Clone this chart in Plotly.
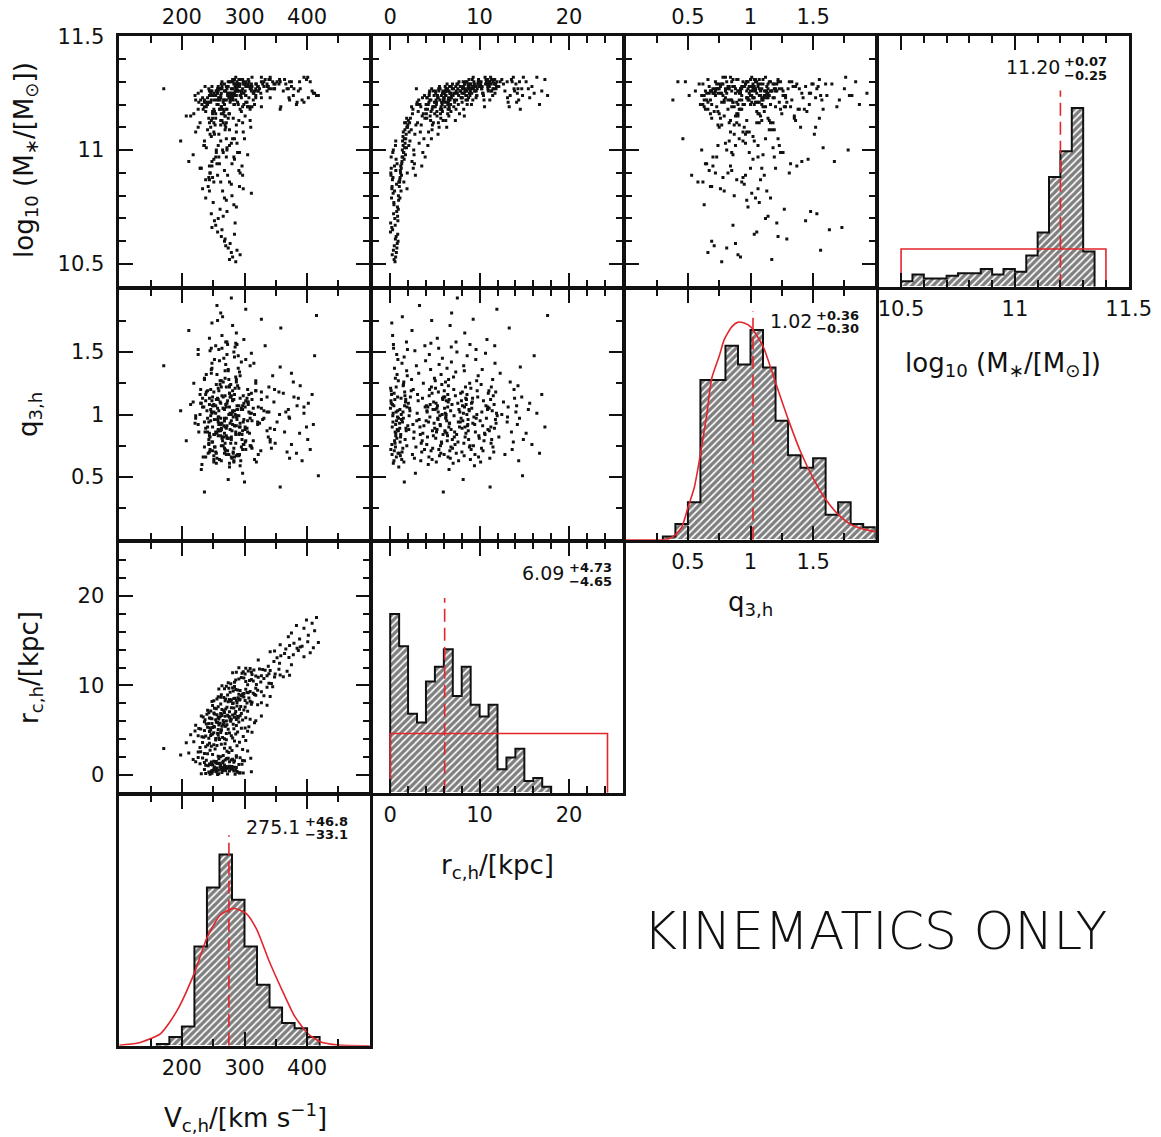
import plotly.graph_objects as go

FIG_W, FIG_H = 1161, 1137
FONT = "DejaVu Sans"
RED = "#e2262b"
INK = "#111111"
FRAME_W = 2.6

# ---------------------------------------------------------------------------
# Posterior samples: core radius r_c,h [kpc], circular velocity V_c,h [km/s],
# halo flattening q_3,h and stellar mass log10(M*/Msun); one entry per sample.
# ---------------------------------------------------------------------------
r_samp = [
    0.61, 0.83, 0.21, 0.48, 0.75, 0.03, 0.59, 0.36, 0.94, 0.67,
    0.25, 0.42, 0.79, 0.11, 0.54, 0.86, 0.33, 0.63, 0.18, 0.71,
    0.46, 0.91, 0.29, 0.56, 0.09, 0.69, 0.38, 0.84, 0.49, 0.15,
    0.77, 0.23, 0.96, 0.41, 0.62, 0.05, 0.88, 0.31, 0.73, 0.52,
    0.19, 0.66, 0.27, 0.92, 0.44, 0.07, 0.81, 0.58, 0.35, 0.12,
    1.05, 1.32, 1.67, 1.88, 1.14, 1.49, 1.76, 1.21, 1.58, 1.93,
    1.09, 1.41, 1.62, 1.27, 1.84, 1.18, 1.53, 1.71, 1.36, 1.97,
    1.02, 1.45, 1.79, 1.24, 1.56, 1.11, 1.65, 1.38, 1.91, 1.29,
    1.74, 1.16, 1.47, 1.82, 1.33, 1.61, 1.07, 1.52, 1.86, 1.43,
    2.08, 2.35, 2.71, 2.93, 2.17, 2.54, 2.82, 2.26, 2.63, 2.44,
    2.12, 2.88, 2.39, 2.67, 2.03, 2.76, 2.49, 2.21, 2.97, 2.58,
    3.06, 3.42, 3.77, 3.19, 3.58, 3.91, 3.28, 3.65, 3.13, 3.84,
    3.37, 3.71, 3.02, 3.53, 3.96, 3.24, 3.61, 3.47, 3.88, 3.33,
    4.05, 4.33, 4.68, 4.91, 4.17, 4.52, 4.79, 4.26, 4.61, 4.44,
    4.09, 4.86, 4.38, 4.72, 4.13, 4.57, 4.95, 4.29, 4.64, 4.47,
    4.02, 4.83, 4.36, 4.69, 4.21, 4.55, 4.98, 4.41, 4.75, 4.11,
    5.04, 5.31, 5.66, 5.89, 5.18, 5.47, 5.73, 5.22, 5.58, 5.94,
    5.09, 5.39, 5.81, 5.27, 5.63, 5.13, 5.51, 5.77, 5.35, 5.98,
    5.02, 5.44, 5.69, 5.24, 5.85, 5.16, 5.55, 5.42, 5.91, 5.29,
    5.61, 5.07, 5.75, 5.37, 5.84,
    6.03, 6.28, 6.61, 6.87, 6.15, 6.44, 6.72, 6.21, 6.53, 6.95,
    6.08, 6.36, 6.79, 6.25, 6.58, 6.12, 6.49, 6.83, 6.32, 6.67,
    6.05, 6.41, 6.76, 6.19, 6.56, 6.91, 6.38, 6.64, 6.10, 6.47,
    6.85, 6.23, 6.70, 6.34, 6.59, 6.97, 6.16, 6.51, 6.81, 6.43,
    7.04, 7.33, 7.62, 7.88, 7.17, 7.46, 7.75, 7.25, 7.56, 7.93,
    7.11, 7.39, 7.69, 7.21, 7.51, 7.84, 7.29, 7.65, 7.08, 7.43,
    7.79, 7.36, 7.58, 7.97, 7.14,
    8.02, 8.31, 8.64, 8.89, 8.16, 8.45, 8.73, 8.22, 8.57, 8.94,
    8.07, 8.38, 8.81, 8.27, 8.61, 8.12, 8.49, 8.77, 8.34, 8.68,
    8.04, 8.42, 8.86, 8.19, 8.53, 8.97, 8.29, 8.71, 8.09, 8.47,
    8.84, 8.24, 8.59, 8.36, 8.92,
    9.05, 9.36, 9.67, 9.91, 9.18, 9.48, 9.79, 9.24, 9.57, 9.96,
    9.12, 9.42, 9.73, 9.28, 9.62, 9.09, 9.53, 9.84, 9.31, 9.69,
    9.02, 9.45, 9.88, 9.21, 9.60,
    10.06, 10.38, 10.71, 10.93, 10.17, 10.49, 10.82, 10.25, 10.61, 10.97,
    10.11, 10.43, 10.76, 10.29, 10.55, 10.88, 10.21, 10.66, 10.34, 10.91,
    11.04, 11.35, 11.66, 11.89, 11.17, 11.46, 11.77, 11.23, 11.58, 11.93,
    11.09, 11.41, 11.72, 11.28, 11.53, 11.84, 11.14, 11.62, 11.31, 11.97,
    11.07, 11.49, 11.80, 11.26, 11.69,
    12.15, 12.48, 12.83, 12.30, 12.67,
    13.08, 13.42, 13.77, 13.19, 13.56, 13.91, 13.31, 13.64, 13.12, 13.85,
    14.06, 14.37, 14.71, 14.22, 14.55, 14.89, 14.14, 14.46, 14.80, 14.29,
    15.20, 15.60, 15.85, 16.10, 16.40, 16.70, 16.95, 17.30, 17.60, 15.45,
]

logm_samp = [
    10.53, 10.71, 10.84, 10.93, 10.57, 10.64, 11.02, 10.56, 10.78, 10.62,
    10.87, 10.76, 10.59, 10.97, 10.51, 10.69, 10.81, 10.91, 10.66, 10.85,
    10.58, 10.74, 10.99, 10.67, 10.89, 10.55, 10.72, 10.63, 10.82, 10.79,
    10.94, 10.54, 10.86, 10.77, 11.04, 10.68, 10.60, 10.88, 10.73, 10.70,
    10.83, 10.96, 10.65, 10.80, 10.52, 10.90, 10.75, 10.61, 11.00, 10.92,
    10.86, 10.95, 11.03, 10.83, 10.91, 10.99, 11.12, 10.82, 11.05, 11.10,
    10.79, 10.97, 11.01, 10.89, 11.14, 10.93, 10.86, 10.98, 11.00, 11.11,
    10.84, 11.02, 11.07, 10.92, 10.96, 10.88, 11.09, 11.04, 10.90, 10.94,
    11.05, 10.90, 11.08, 11.01, 10.97, 11.12, 10.87, 10.99, 11.10, 11.06,
    11.02, 11.09, 10.94, 11.27, 11.12, 11.18, 10.89, 11.14, 11.00, 10.95,
    11.08, 11.11, 11.19, 10.98, 11.13, 11.07, 11.16, 11.04, 11.20, 10.92,
    11.12, 11.19, 11.05, 11.22, 11.15, 10.97, 11.20, 10.99, 11.17, 11.24,
    11.08, 11.16, 11.21, 10.93, 11.18, 11.03, 11.23, 11.11, 11.14, 11.20,
    11.16, 11.21, 11.09, 11.24, 11.18, 11.13, 11.26, 11.20, 11.05, 11.22,
    11.14, 11.19, 11.25, 11.11, 11.23, 11.17, 11.21, 11.08, 11.27, 11.15,
    11.20, 11.12, 11.24, 11.18, 11.02, 11.22, 11.16, 11.26, 11.19, 11.23,
    11.19, 11.23, 11.14, 11.26, 11.21, 11.10, 11.24, 11.17, 11.27, 11.22,
    11.25, 11.12, 11.20, 11.24, 11.16, 11.22, 11.28, 11.18, 11.07, 11.23,
    11.21, 11.26, 11.19, 11.15, 11.25, 11.20, 11.22, 11.27, 11.13, 11.24,
    11.18, 11.26, 11.21, 11.23, 11.17,
    11.22, 11.26, 11.18, 11.24, 11.28, 11.20, 11.25, 11.13, 11.23, 11.27,
    11.21, 11.29, 11.17, 11.24, 11.26, 11.19, 11.22, 11.28, 11.10, 11.25,
    11.23, 11.27, 11.20, 11.26, 11.15, 11.24, 11.21, 11.28, 11.25, 11.18,
    11.23, 11.27, 11.22, 11.26, 11.19, 11.29, 11.24, 11.21, 11.25, 11.16,
    11.24, 11.28, 11.20, 11.26, 11.22, 11.29, 11.16, 11.25, 11.27, 11.23,
    11.19, 11.26, 11.30, 11.21, 11.25, 11.28, 11.13, 11.24, 11.27, 11.22,
    11.26, 11.18, 11.29, 11.23, 11.25,
    11.25, 11.29, 11.22, 11.27, 11.30, 11.24, 11.28, 11.18, 11.26, 11.29,
    11.23, 11.27, 11.31, 11.25, 11.20, 11.28, 11.26, 11.23, 11.29, 11.27,
    11.21, 11.30, 11.25, 11.28, 11.24, 11.26, 11.15, 11.29, 11.27, 11.22,
    11.28, 11.25, 11.30, 11.26, 11.24,
    11.27, 11.30, 11.24, 11.28, 11.31, 11.26, 11.29, 11.22, 11.28, 11.30,
    11.25, 11.29, 11.27, 11.32, 11.26, 11.20, 11.28, 11.30, 11.27, 11.24,
    11.29, 11.26, 11.31, 11.28, 11.23,
    11.28, 11.25, 11.31, 11.27, 11.30, 11.22, 11.29, 11.27, 11.32, 11.26,
    11.29, 11.24, 11.30, 11.28, 11.19, 11.31, 11.27, 11.29, 11.25, 11.28,
    11.29, 11.26, 11.31, 11.28, 11.30, 11.24, 11.29, 11.32, 11.27, 11.30,
    11.28, 11.31, 11.25, 11.29, 11.30, 11.27, 11.22, 11.29, 11.31, 11.28,
    11.30, 11.27, 11.29, 11.26, 11.31,
    11.28, 11.31, 11.26, 11.30, 11.29,
    11.30, 11.24, 11.32, 11.21, 11.31, 11.26, 11.19, 11.30, 11.23, 11.27,
    11.29, 11.22, 11.27, 11.25, 11.18, 11.32, 11.21, 11.30, 11.24, 11.27,
    11.30, 11.23, 11.28, 11.25, 11.32, 11.20, 11.26, 11.31, 11.24, 11.27,
]

v_samp = [
    281, 266, 292, 248, 274, 257, 236, 288, 271, 263,
    244, 283, 277, 259, 286, 252, 311, 268, 248, 279,
    270, 261, 289, 254, 273, 279, 247, 284, 265, 238,
    256, 293, 276, 250, 262, 285, 268, 243, 272, 258,
    298, 251, 264, 280, 276, 245, 287, 269, 255, 231,
    262, 248, 279, 233, 291, 255, 271, 244, 300, 226,
    268, 283, 239, 257, 274, 296, 251, 218, 265, 287,
    242, 276, 259, 229, 284, 249, 269, 236, 293, 260,
    281, 245, 222, 272, 254, 297, 238, 266, 310, 247,
    258, 241, 280, 171, 266, 226, 297, 249, 272, 211,
    287, 253, 236, 305, 262, 245, 275, 198, 268, 230,
    229, 263, 284, 247, 207, 271, 256, 292, 238, 302,
    251, 219, 277, 244, 260, 288, 233, 269, 254, 241,
    254, 238, 276, 221, 265, 247, 289, 232, 271, 258,
    243, 305, 226, 262, 281, 249, 236, 298, 257, 214,
    268, 244, 279, 251, 235, 286, 263, 246, 312, 259,
    263, 241, 282, 255, 227, 270, 248, 295, 259, 236,
    274, 251, 316, 244, 266, 230, 287, 261, 252, 278,
    246, 269, 239, 301, 257, 283, 222, 264, 291, 249,
    272, 258, 243, 307, 267,
    271, 248, 293, 262, 237, 284, 256, 309, 275, 243,
    266, 290, 252, 279, 231, 297, 261, 285, 246, 273,
    318, 258, 240, 287, 269, 251, 302, 264, 277, 234,
    295, 259, 281, 244, 327, 268, 254, 289, 263, 276,
    276, 292, 258, 311, 267, 283, 249, 299, 272, 262,
    305, 255, 288, 241, 279, 321, 264, 294, 286, 252,
    336, 270, 301, 281, 246,
    282, 301, 267, 318, 274, 293, 258, 309, 285, 263,
    327, 279, 297, 251, 290, 312, 270, 341, 287, 262,
    304, 276, 295, 248, 283, 316, 269, 299, 288, 256,
    331, 278, 307, 292, 273,
    297, 282, 318, 271, 306, 289, 336, 277, 302, 264,
    314, 293, 281, 327, 268, 299, 286, 345, 309, 275,
    291, 321, 284, 304, 259,
    305, 326, 291, 348, 278, 314, 299, 339, 286, 362,
    319, 302, 331, 274, 308, 295, 343, 311, 284, 322,
    318, 296, 341, 309, 357, 287, 329, 312, 368, 302,
    336, 281, 315, 349, 298, 324, 372, 306, 339, 291,
    327, 311, 355, 301, 333,
    338, 356, 322, 375, 347,
    352, 378, 341, 395, 364, 386, 358, 405, 371, 348,
    366, 392, 379, 410, 357, 401, 384, 372, 418, 389,
    388, 402, 375, 412, 395, 383, 408, 399, 415, 370,
]

q_samp = [
    0.92, 1.14, 0.68, 1.37, 0.81, 1.05, 0.74, 1.56, 0.97, 1.22,
    1.08, 0.63, 0.88, 1.19, 0.77, 1.44, 1.01, 0.85, 1.73, 0.95,
    0.71, 1.27, 0.99, 0.86, 1.11, 0.66, 1.53, 1.03, 0.79, 1.16,
    1.32, 0.90, 0.58, 1.07, 0.83, 1.21, 0.69, 0.94, 1.48, 1.12,
    0.76, 1.02, 1.63, 0.87, 1.17, 0.72, 0.98, 1.29, 0.61, 1.09,
    0.93, 1.41, 0.80, 1.06, 0.67, 1.24, 0.89, 1.13, 0.46, 1.52,
    1.04, 0.73, 1.18, 0.96, 1.35, 0.84, 0.62, 1.10, 1.78, 0.91,
    0.69, 1.23, 0.87, 1.00, 1.46, 0.78, 1.15, 0.94, 1.31, 0.64,
    1.12, 0.82, 0.97, 1.58, 0.70, 1.07, 0.89, 1.26, 0.75, 1.02,
    0.88, 1.19, 0.65, 1.39, 1.05, 0.92, 0.53, 1.14, 0.81, 1.67,
    0.99, 0.74, 1.28, 0.86, 1.09, 1.51, 0.68, 1.03, 0.95, 1.20,
    1.16, 0.63, 0.91, 1.33, 0.79, 1.06, 1.87, 0.85, 1.11, 0.72,
    0.84, 1.25, 1.01, 0.70, 1.43, 0.96, 1.13, 0.77, 1.55, 0.90,
    1.07, 0.66, 1.17, 0.93, 0.82, 1.36, 1.04, 0.60, 1.22, 0.98,
    0.76, 1.10, 1.48, 0.87, 1.02, 0.71, 1.29, 0.94, 1.75, 1.08,
    0.95, 0.83, 1.15, 0.64, 1.06, 1.57, 0.89, 1.20, 0.73, 1.03,
    1.27, 0.97, 0.69, 1.12, 0.86, 1.40, 0.78, 1.05, 0.92, 0.38,
    0.81, 1.18, 1.00, 1.61, 0.75, 1.09, 0.67, 1.24, 0.96, 1.14,
    1.04, 0.72, 1.32, 0.88, 1.13, 0.62, 0.99, 1.53, 0.84, 1.07,
    0.91, 1.21, 0.77, 1.02, 1.45, 0.68, 1.11, 0.93, 1.81, 0.86,
    1.16, 0.65, 0.97, 1.28, 0.80, 1.05, 1.37, 0.74, 1.00, 0.56,
    0.87, 1.10, 1.54, 0.95, 0.71, 1.19, 0.83, 1.03, 1.26, 0.90,
    1.08, 0.79, 0.93, 1.14, 0.66, 1.42, 0.98, 1.71, 0.85, 1.12,
    0.73, 1.01, 1.23, 0.88, 1.06, 0.61, 1.34, 0.94, 1.17, 0.82,
    1.50, 0.90, 0.76, 1.09, 0.97, 1.20, 0.69, 1.04, 0.86, 1.93,
    0.94, 1.15, 0.63, 1.30, 0.84, 1.02, 1.58, 0.78, 1.11, 0.99,
    0.70, 1.06, 0.91, 1.25, 0.48, 1.13, 0.87, 1.39, 1.00, 0.75,
    1.18, 0.82, 1.04, 0.67, 1.47, 0.95, 1.08, 0.80, 1.65, 0.92,
    0.89, 1.22, 0.74, 1.01, 1.12, 0.64, 1.35, 0.96, 1.07, 0.85,
    1.03, 0.77, 1.16, 0.90, 1.56, 0.72, 0.98, 1.27, 0.83, 1.10,
    0.68, 1.14, 0.93, 1.44, 0.81, 1.05, 0.59, 1.19, 1.76, 0.97,
    1.09, 0.86, 1.31, 0.75, 1.00, 1.21, 0.92, 0.66, 1.13, 1.52,
    0.95, 0.71, 1.07, 0.88, 1.24, 0.79, 1.60, 1.02, 0.84, 1.17,
    0.62, 1.11, 0.97, 1.36, 0.85, 1.04, 0.73, 1.49, 0.91, 1.06,
    1.19, 0.80, 0.89, 1.01, 0.42, 1.28, 0.96, 1.12, 0.70, 1.84,
    0.87, 1.03, 1.41, 0.77, 1.15, 0.93, 0.65, 1.08, 1.22, 0.99,
    1.05, 0.74, 1.18, 0.90, 1.55, 0.82, 1.00, 0.68, 1.33, 1.10,
    0.94, 1.26, 0.78, 1.06, 0.86, 1.13, 1.69, 0.72, 0.98, 1.20,
    1.02, 0.63, 1.14, 0.92, 1.38, 0.80, 1.07, 0.97, 0.51, 1.23,
    0.85, 1.09, 0.76, 1.47, 1.01, 0.69, 1.16, 0.90, 1.79, 1.04,
]

assert len(r_samp) == len(logm_samp) == len(v_samp) == len(q_samp)

# ---------------------------------------------------------------------------
# Marginal histograms (lower bin edges, bin width, counts)
# ---------------------------------------------------------------------------
logm_bin_lo = [10.50, 10.55, 10.60, 10.65, 10.70, 10.75, 10.80, 10.85, 10.90,
               10.95, 11.00, 11.05, 11.10, 11.15, 11.20, 11.25, 11.30]
logm_bin_w = 0.05
logm_counts = [4, 9, 6, 6, 8, 10, 10, 13, 9, 13, 11, 23, 40, 81, 100, 132, 26]

q_bin_lo = [0.3, 0.4, 0.5, 0.6, 0.7, 0.8, 0.9, 1.0, 1.1, 1.2, 1.3, 1.4, 1.5,
            1.6, 1.7, 1.8, 1.9]
q_bin_w = 0.1
q_counts = [1, 5, 12, 51, 51, 62, 56, 67, 55, 38, 27, 23, 26, 8, 12, 5, 4]

r_bin_lo = [0, 1, 2, 3, 4, 5, 6, 7, 8, 9, 10, 11, 12, 13, 14, 15, 16, 17]
r_bin_w = 1.0
r_counts = [61, 50, 27, 24, 38, 43, 49, 33, 43, 30, 26, 30, 8, 12, 15, 4, 5, 2]

v_bin_lo = [160, 180, 200, 220, 240, 260, 280, 300, 320, 340, 360, 380, 400]
v_bin_w = 20
v_counts = [1, 5, 11, 57, 91, 110, 84, 57, 35, 22, 13, 10, 5]

# Priors / model curves overplotted in red
logm_prior_lo, logm_prior_hi, logm_prior_level = 10.5, 11.4, 27.8
r_prior_lo, r_prior_hi, r_prior_level = 0.0, 24.3, 20.2

q_curve_x = [0.00, 0.30, 0.35, 0.39, 0.45, 0.50, 0.55, 0.59, 0.65, 0.69, 0.75,
             0.79, 0.85, 0.90, 0.95, 1.00, 1.10, 1.20, 1.30, 1.40, 1.50, 1.60,
             1.70, 1.80, 1.90, 2.00]
q_curve_y = [0.0, 0.0, 0.3, 1.3, 3.9, 10.2, 16.5, 25.0, 39.7, 51.5, 58.6,
             63.9, 68.0, 69.5, 69.2, 68.1, 61.8, 50.2, 38.6, 28.1, 19.7, 12.9,
             8.1, 4.9, 3.4, 2.5]

v_curve_x = [100, 130, 166, 192, 219, 240, 261, 282, 303, 320, 339, 360, 380,
             401, 421, 450, 500]
v_curve_y = [0.3, 1.5, 7, 20, 41, 62, 75, 79, 76, 66.5, 49, 32, 17, 7, 2.3,
             0.4, 0]

# Medians with 1-sigma errors
logm_med, logm_up, logm_lo = 11.20, 0.07, 0.25
q_med, q_up, q_lo = 1.02, 0.36, 0.30
r_med, r_up, r_lo = 6.09, 4.73, 4.65
v_med, v_up, v_lo = 275.1, 46.8, 33.1

# ---------------------------------------------------------------------------
# Axis definitions per parameter
# ---------------------------------------------------------------------------
AXES = {
    "v": dict(range=[100, 500], major=[200, 300, 400],
              labels=["200", "300", "400"], minor=[150, 250, 350, 450]),
    "r": dict(range=[-2, 26], major=[0, 10, 20], labels=["0", "10", "20"],
              minor=[2, 4, 6, 8, 12, 14, 16, 18, 22, 24]),
    "q": dict(range=[0, 2], major=[0.5, 1, 1.5], labels=["0.5", "1", "1.5"],
              minor=[0.25, 0.75, 1.25, 1.75]),
    "logm": dict(range=[10.4, 11.5], major=[10.5, 11, 11.5],
                 labels=["10.5", "11", "11.5"],
                 minor=[10.6, 10.7, 10.8, 10.9, 11.1, 11.2, 11.3, 11.4]),
}
SAMPLES = {"v": v_samp, "r": r_samp, "q": q_samp, "logm": logm_samp}

# panel boundaries in pixels (shared edges between neighbouring panels)
COL_PX = [118, 371, 624, 877, 1130]
ROW_PX = [35, 288, 541, 794, 1047]


def fx(px):
    return px / FIG_W


def fy(py):
    return 1 - py / FIG_H


# axis lines sit half a line width outside the plot area, so inset each
# domain by that amount to make neighbouring frames coincide
HALF = FRAME_W / 2


def xdom(c):
    return [fx(COL_PX[c] + HALF), fx(COL_PX[c + 1] - HALF)]


def ydom(r):
    return [fy(ROW_PX[r + 1] - HALF), fy(ROW_PX[r] + HALF)]


TICKFONT = dict(family=FONT, size=21, color=INK)


def param_axis(var, domain, anchor, labels_on, side=None, standoff=2):
    a = AXES[var]
    d = dict(
        domain=domain, anchor=anchor, range=a["range"], autorange=False,
        automargin=False,
        showline=True, linecolor=INK, linewidth=FRAME_W, mirror="ticks",
        ticks="inside", ticklen=14, tickwidth=2, tickcolor=INK,
        tickmode="array", tickvals=a["major"], ticktext=a["labels"],
        showticklabels=labels_on, tickfont=TICKFONT,
        ticklabelstandoff=standoff,
        minor=dict(tickmode="array", tickvals=a["minor"], ticks="inside",
                   ticklen=7, tickwidth=2, tickcolor=INK, showgrid=False),
        showgrid=False, zeroline=False, fixedrange=True,
    )
    if side:
        d["side"] = side
    return d


def count_axis(domain, anchor, top):
    return dict(domain=domain, anchor=anchor, range=[0, top], autorange=False,
                automargin=False,
                showline=True, linecolor=INK, linewidth=FRAME_W, mirror=True,
                ticks="", showticklabels=False, showgrid=False,
                zeroline=False, fixedrange=True)


fig = go.Figure()
layout_axes = {}

# scatter panels: (index, column, row, x parameter, y parameter)
scatter_panels = [
    (1, 0, 0, "v", "logm"),
    (2, 1, 0, "r", "logm"),
    (3, 2, 0, "q", "logm"),
    (5, 0, 1, "v", "q"),
    (6, 1, 1, "r", "q"),
    (8, 0, 2, "v", "r"),
]
for k, c, r, xv, yv in scatter_panels:
    top_row = r == 0
    layout_axes[f"xaxis{k}"] = param_axis(xv, xdom(c), f"y{k}", top_row,
                                          side="top" if top_row else None,
                                          standoff=1)
    layout_axes[f"yaxis{k}"] = param_axis(yv, ydom(r), f"x{k}", c == 0,
                                          standoff=8)
    fig.add_trace(go.Scatter(
        x=SAMPLES[xv], y=SAMPLES[yv], mode="markers", xaxis=f"x{k}",
        yaxis=f"y{k}", hoverinfo="skip",
        marker=dict(symbol="square", size=3, color=INK, line=dict(width=0)),
    ))

# histogram panels: (index, column, row, parameter, lower edges, width,
#                    counts, y-top, median, median-line top)
hist_panels = [
    (4, 3, 0, "logm", logm_bin_lo, logm_bin_w, logm_counts, 185, logm_med, 145),
    (7, 2, 1, "q", q_bin_lo, q_bin_w, q_counts, 80, q_med, 73),
    (9, 1, 2, "r", r_bin_lo, r_bin_w, r_counts, 85.5, r_med, 66.5),
    (10, 0, 3, "v", v_bin_lo, v_bin_w, v_counts, 144, v_med, 121),
]
for k, c, r, var, lo, w, counts, ytop, med, medtop in hist_panels:
    layout_axes[f"xaxis{k}"] = param_axis(var, xdom(c), f"y{k}", True,
                                          standoff=1)
    layout_axes[f"yaxis{k}"] = count_axis(ydom(r), f"x{k}", ytop)
    xa, ya = f"x{k}", f"y{k}"
    fig.add_trace(go.Bar(
        x=[e + w / 2 for e in lo], y=counts, width=w, xaxis=xa, yaxis=ya,
        hoverinfo="skip",
        marker=dict(color="white", line=dict(width=0),
                    pattern=dict(shape="/", fgcolor="black", bgcolor="white",
                                 size=5, solidity=0.66)),
    ))
    # stepped outline of the histogram
    sx, sy = [lo[0]], [0]
    for e, n in zip(lo, counts):
        sx += [e, e + w]
        sy += [n, n]
    sx.append(lo[-1] + w)
    sy.append(0)
    fig.add_trace(go.Scatter(x=sx, y=sy, mode="lines", xaxis=xa, yaxis=ya,
                             hoverinfo="skip",
                             line=dict(color=INK, width=2)))
    # median marker
    fig.add_trace(go.Scatter(x=[med, med], y=[0, medtop], mode="lines",
                             xaxis=xa, yaxis=ya, hoverinfo="skip",
                             line=dict(color=RED, width=1.6,
                                       dash="13px,6px")))

# prior boxes and model curves
fig.add_trace(go.Scatter(
    x=[logm_prior_lo, logm_prior_lo, logm_prior_hi, logm_prior_hi],
    y=[0, logm_prior_level, logm_prior_level, 0], mode="lines",
    xaxis="x4", yaxis="y4", hoverinfo="skip",
    line=dict(color=RED, width=1.6)))
fig.add_trace(go.Scatter(
    x=[r_prior_lo, r_prior_lo, r_prior_hi, r_prior_hi],
    y=[0, r_prior_level, r_prior_level, 0], mode="lines",
    xaxis="x9", yaxis="y9", hoverinfo="skip",
    line=dict(color=RED, width=1.6)))
fig.add_trace(go.Scatter(
    x=q_curve_x, y=q_curve_y, mode="lines", xaxis="x7", yaxis="y7",
    hoverinfo="skip", line=dict(color=RED, width=1.6, shape="spline",
                                smoothing=0.6)))
fig.add_trace(go.Scatter(
    x=v_curve_x, y=v_curve_y, mode="lines", xaxis="x10", yaxis="y10",
    hoverinfo="skip", line=dict(color=RED, width=1.6, shape="spline",
                                smoothing=0.6)))

# ---------------------------------------------------------------------------
# Text
# ---------------------------------------------------------------------------
annotations = []


def text(px, py, s, size, angle=0, xanchor="center", yanchor="middle",
         weight="normal"):
    annotations.append(dict(
        x=fx(px), y=fy(py), xref="paper", yref="paper", text=s,
        showarrow=False, textangle=angle, xanchor=xanchor, yanchor=yanchor,
        font=dict(family=FONT, size=size, color=INK, weight=weight)))


LOGM_TITLE = "log<sub>10</sub> (M<sub>∗</sub>/[M<sub>⊙</sub>])"
Q_TITLE = "q<sub>3,h</sub>"
R_TITLE = "r<sub>c,h</sub>/[kpc]"
V_TITLE = "V<sub>c,h</sub>/[km s<sup>−1</sup>]"

text(26, 160, LOGM_TITLE, 26, angle=-90)
text(30, 415, Q_TITLE, 26, angle=-90)
text(30, 668, R_TITLE, 26, angle=-90)
text(1003, 364, LOGM_TITLE, 26)
text(750, 603, Q_TITLE, 26)
text(497, 866, R_TITLE, 26)
text(245, 1117, V_TITLE, 26)


def stat(med, up, lo, fmt, right_px, cy, sup_cy, sub_cy, left_px):
    text(right_px, cy, fmt.format(med), 19, xanchor="right")
    text(left_px, sup_cy, "+" + fmt.format(up), 13, xanchor="left",
         weight="bold")
    text(left_px, sub_cy, "−" + fmt.format(lo), 13, xanchor="left",
         weight="bold")


stat(logm_med, logm_up, logm_lo, "{:.2f}", 1062, 67, 62, 75, 1062)
stat(q_med, q_up, q_lo, "{:.2f}", 814, 321, 316, 329, 814)
stat(r_med, r_up, r_lo, "{:.2f}", 566, 573, 568, 581, 567)
stat(v_med, v_up, v_lo, "{:.1f}", 302, 827, 821, 834, 303)

text(875, 931, "KINEMATICS ONLY", 52, weight=300)

fig.update_layout(
    width=FIG_W, height=FIG_H, autosize=False,
    margin=dict(l=0, r=0, t=0, b=0, pad=0),
    paper_bgcolor="white", plot_bgcolor="white",
    showlegend=False, barmode="overlay", bargap=0,
    annotations=annotations, **layout_axes,
)

fig.write_html("out.html")
